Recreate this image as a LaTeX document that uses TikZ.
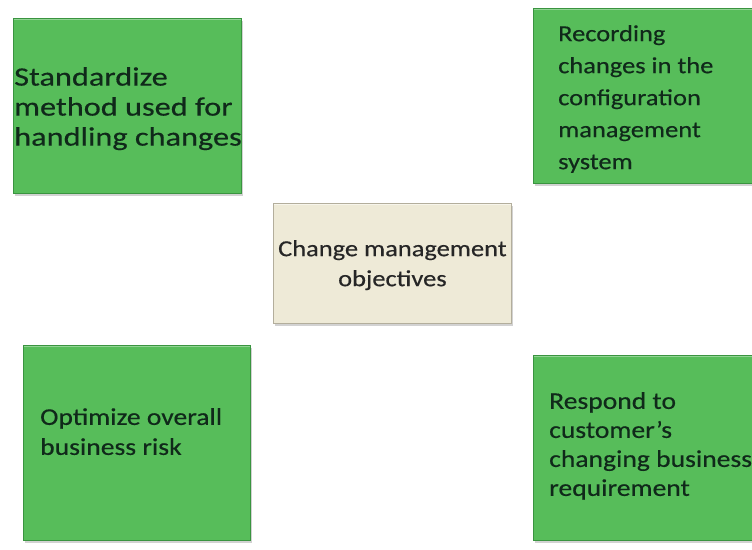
\documentclass[tikz,border=0pt]{standalone}
\usepackage{fontspec}
\setmainfont{Carlito}[FakeStretch=1.15, FakeBold=0.4]
\newfontfamily\widefont{Carlito}[FakeStretch=1.22, FakeBold=0.4]
\usetikzlibrary{shadows}

\definecolor{boxgreen}{HTML}{57BD5A}
\definecolor{edgegreen}{HTML}{3A9440}
\definecolor{boxbeige}{HTML}{EEEAD7}
\definecolor{edgebeige}{HTML}{B3AE9C}
\definecolor{txtgreen}{HTML}{10291A}

\tikzset{
	bevel/.style={path picture={
		\draw[#1, line width=2.5pt] (path picture bounding box.north west) -- (path picture bounding box.north east);}},
	greenbox/.style={rectangle, fill=boxgreen, draw=edgegreen, line width=.8pt, inner sep=0pt, anchor=north west,
		bevel=white!35!boxgreen, drop shadow={shadow xshift=1.5pt, shadow yshift=-2.5pt, opacity=.35}},
	beigebox/.style={rectangle, fill=boxbeige, draw=edgebeige, line width=.8pt, inner sep=0pt, anchor=north west,
		bevel=white!50!boxbeige, drop shadow={shadow xshift=1.5pt, shadow yshift=-2.5pt, opacity=.35}},
	boxtext/.style={inner sep=0pt, align=left, anchor=north west, text=txtgreen,
		font=\fontsize{24}{30}\selectfont},
}

\begin{document}
\begin{tikzpicture}[x=1pt, y=-1pt]
	
	\useasboundingbox[fill=white] (0,0) rectangle (752,549);
	
	\node[greenbox, minimum width=228pt, minimum height=175pt] (std) at (13,18) {};
	\node[greenbox, minimum width=224pt, minimum height=175pt] (rec) at (533,8) {};
	\node[beigebox, minimum width=238pt, minimum height=120pt] (obj) at (273,203) {};
	\node[greenbox, minimum width=227pt, minimum height=195pt] (opt) at (23,345) {};
	\node[greenbox, minimum width=224pt, minimum height=185pt] (resp) at (533,355) {};
	
	\node[boxtext, font=\widefont\fontsize{26.5}{30}\selectfont] (stdtxt) at (14,67) {Standardize\\method used for\\handling changes};
	\node[boxtext, font=\fontsize{23}{32}\selectfont] (rectxt) at (558,25) {Recording\\changes in the\\configuration\\management\\system};
	\node[boxtext, align=center, anchor=north, text=black!85, font=\fontsize{23}{30}\selectfont] (objtxt) at (obj.north |- 0,240) {Change management\\objectives};
	\node[boxtext] (opttxt) at (40,408) {Optimize overall\\business risk};
	\node[boxtext, font=\fontsize{24}{29}\selectfont] (resptxt) at (549,392) {Respond to\\customer’s\\changing business\\requirement};
	
\end{tikzpicture}
\end{document}
